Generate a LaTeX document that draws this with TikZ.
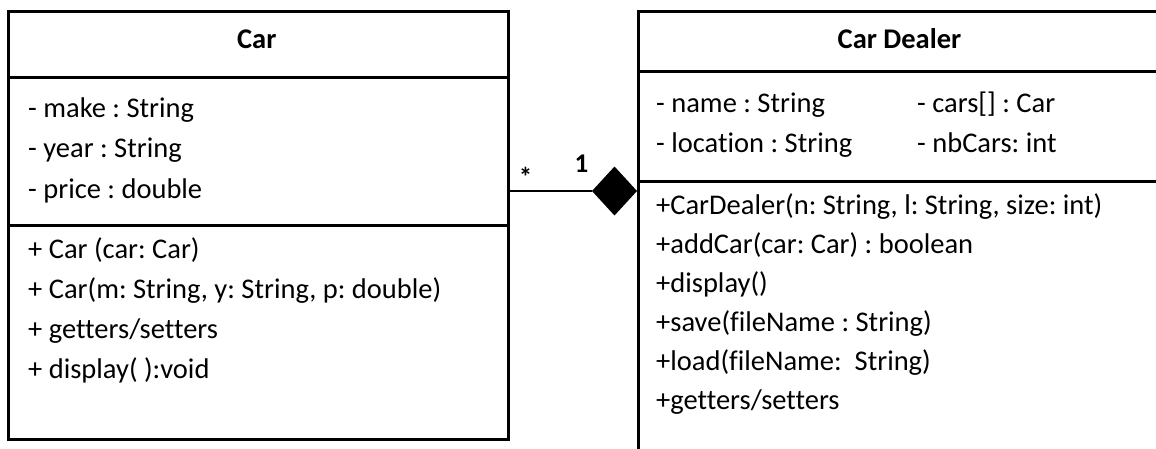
\documentclass[tikz,border=0pt]{standalone}
\usepackage{fontspec}
\setmainfont{Carlito}[Ligatures=NoCommon]
\tikzset{
  umlbox/.style={draw=black, line width=3pt, fill=white, inner sep=0pt},
  divider/.style={line width=3pt},
  txt/.style={anchor=base west, inner sep=0pt, font=\fontsize{28.5}{34}\selectfont\frenchspacing},
  head/.style={anchor=base, inner sep=0pt, font=\fontsize{28.5}{34}\selectfont\bfseries},
  mult/.style={anchor=base, inner sep=0pt, font=\fontsize{27}{32}\selectfont\bfseries},
  link/.style={line width=2.8pt},
}
\begin{document}
\begin{tikzpicture}[x=1pt,y=-1pt]
\fill[white] (0,0) rectangle (1156,448);
\useasboundingbox (0,0) rectangle (1156,448);
\clip (0,0) rectangle (1156,448);

% Car class
\node[umlbox, anchor=north west, minimum width=499.5pt, minimum height=428pt] (car) at (7,10) {};
\draw[divider] (7,77) -- (506.5,77);
\draw[divider] (7,225) -- (506.5,225);
\node[head] (carT) at (256.75,48) {Car};
\node[txt] (a1) at (28,117) {- make : String};
\node[txt] (a2) at (28,157.5) {- year : String};
\node[txt] (a3) at (28,198) {- price : double};
\node[txt] (o1) at (28,258) {+ Car (car: Car)};
\node[txt] (o2) at (28,298) {+ Car(m: String, y: String, p: double)};
\node[txt] (o3) at (28,338) {+ getters/setters};
\node[txt] (o4) at (28,378) {+ display( ):void};

% Car Dealer class
\node[umlbox, anchor=north west, minimum width=525pt, minimum height=438.5pt] (dealer) at (637,10) {};
\draw[divider] (637,71.5) -- (1162,71.5);
\draw[divider] (637,181) -- (1162,181);
\node[head] (dealerT) at (899.5,48) {Car Dealer};
\node[txt] (b1) at (656,112) {- name : String};
\node[txt] (b2) at (656,152) {- location : String};
\node[txt] (b3) at (917,112) {- cars[] : Car};
\node[txt] (b4) at (917,152) {- nbCars: int};
\node[txt] (p1) at (656,214) {+CarDealer(n: String, l: String, size: int)};
\node[txt] (p2) at (656,253) {+addCar(car: Car) : boolean};
\node[txt] (p3) at (656,292) {+display()};
\node[txt] (p4) at (656,331) {+save(fileName : String)};
\node[txt] (p5) at (656,370) {+load(fileName:\ \ String)};
\node[txt] (p6) at (656,409) {+getters/setters};

% Composition connector
\coordinate (dl) at (592,191);
\coordinate (dt) at (614.5,166.5);
\coordinate (dr) at (637,191);
\coordinate (db) at (614.5,215.5);
\fill[black] (dl) -- (dt) -- (dr) -- (db) -- cycle;
\draw[link] (car.east |- dl) -- (dl);
\node[mult] (m1) at (525.5,186) {*};
\node[mult] (m2) at (581.5,172) {1};
\end{tikzpicture}
\end{document}
